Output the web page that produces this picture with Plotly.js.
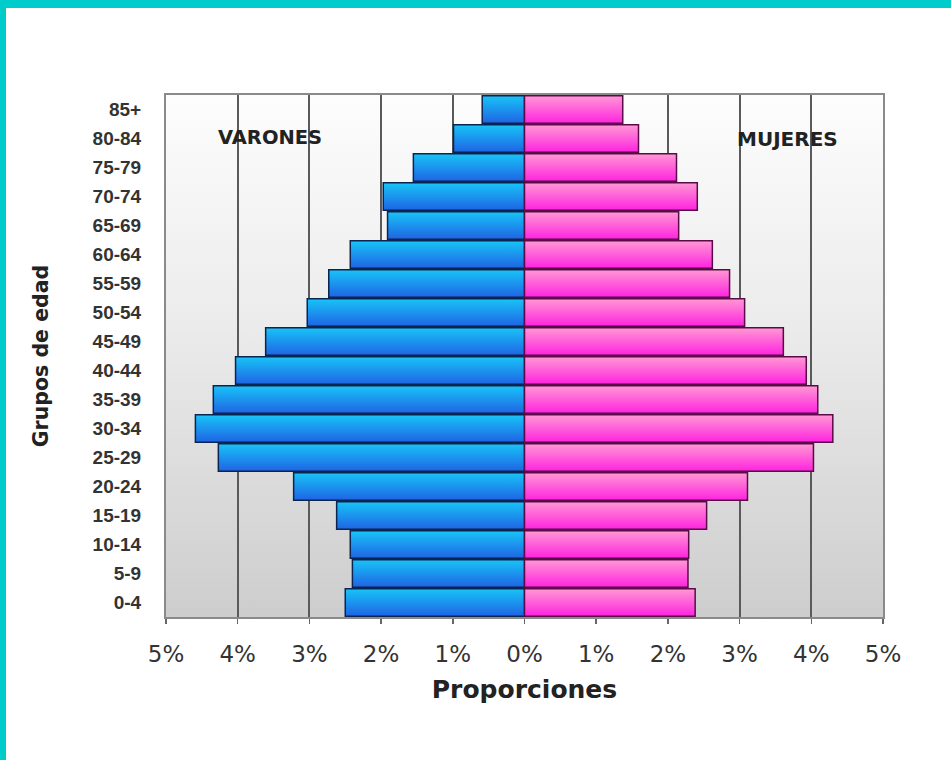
<!DOCTYPE html>
<html>
<head>
<meta charset="utf-8">
<script src="https://cdn.plot.ly/plotly-3.0.1.min.js"></script>
<style>
  html, body { margin: 0; padding: 0; background: #ffffff; }
  #wrap { position: relative; width: 951px; height: 760px; overflow: hidden; }
  #chart { position: absolute; left: 0; top: 0; width: 951px; height: 760px; }
  .band-top { position: absolute; left: 0; top: 0; width: 951px; height: 8px; background: #00cccc; }
  .band-left { position: absolute; left: 0; top: 0; width: 6px; height: 760px; background: #00cccc; }
</style>
</head>
<body>
<div id="wrap">
  <div id="chart"></div>
  <div class="band-top"></div>
  <div class="band-left"></div>
</div>
<script>
// ---- data ----
var ageGroups = ["0-4","5-9","10-14","15-19","20-24","25-29","30-34","35-39","40-44",
                 "45-49","50-54","55-59","60-64","65-69","70-74","75-79","80-84","85+"];
var varones = [2.50, 2.40, 2.43, 2.62, 3.22, 4.27, 4.59, 4.34, 4.03,
               3.61, 3.03, 2.73, 2.43, 1.91, 1.97, 1.55, 0.99, 0.59];
var mujeres = [2.38, 2.28, 2.29, 2.54, 3.11, 4.03, 4.30, 4.09, 3.93,
               3.61, 3.07, 2.86, 2.62, 2.15, 2.41, 2.12, 1.59, 1.37];
var tickValues = [-5, -4, -3, -2, -1, 0, 1, 2, 3, 4, 5];
var tickLabels = ["5%", "4%", "3%", "2%", "1%", "0%", "1%", "2%", "3%", "4%", "5%"];

var FONT = "'Liberation Sans', Arial, Helvetica, sans-serif";
var WIDE = "'DejaVu Sans', Verdana, sans-serif";

var traces = [
  {
    type: "bar", orientation: "h", name: "VARONES",
    y: ageGroups, x: varones.map(function (v) { return -v; }),
    marker: { color: "#1a9cf0", line: { color: "#0b2550", width: 1.5 } },
    hoverinfo: "skip"
  },
  {
    type: "bar", orientation: "h", name: "MUJERES",
    y: ageGroups, x: mujeres,
    marker: { color: "#ff5ad8", line: { color: "#5a0a48", width: 1.5 } },
    hoverinfo: "skip"
  }
];

var bgSvg = "<svg xmlns='http://www.w3.org/2000/svg' width='100' height='100' preserveAspectRatio='none'>" +
  "<defs><linearGradient id='g' x1='0' y1='0' x2='0' y2='1'>" +
  "<stop offset='0' stop-color='#fdfdfd'/><stop offset='0.45' stop-color='#ebebeb'/>" +
  "<stop offset='1' stop-color='#cdcdcd'/></linearGradient></defs>" +
  "<rect width='100' height='100' fill='url(#g)'/></svg>";

var layout = {
  width: 951, height: 760,
  margin: { l: 166, r: 68, t: 95, b: 143, pad: 0 },
  paper_bgcolor: "#ffffff",
  plot_bgcolor: "rgba(0,0,0,0)",
  barmode: "overlay",
  bargap: 0.06,
  showlegend: false,
  font: { family: FONT, color: "#333333" },
  images: [{
    source: "data:image/svg+xml;charset=utf-8," + encodeURIComponent(bgSvg),
    xref: "paper", yref: "paper", x: 0, y: 1, sizex: 1, sizey: 1,
    sizing: "stretch", xanchor: "left", yanchor: "top", layer: "below"
  }],
  xaxis: {
    range: [-5, 5],
    tickmode: "array", tickvals: tickValues, ticktext: tickLabels,
    showgrid: true, gridcolor: "#5a5a5a", gridwidth: 2,
    zeroline: false,
    showline: true, linecolor: "#8a8a8a", linewidth: 2, mirror: true,
    ticks: "outside", ticklen: 5, tickwidth: 1.5, tickcolor: "#666666",
    ticklabelstandoff: 10,
    tickfont: { family: WIDE, size: 23, color: "#333333" },
    title: { text: "Proporciones", standoff: 15,
             font: { family: WIDE, size: 25, color: "#222222", weight: "bold" } },
    fixedrange: true
  },
  yaxis: {
    type: "category",
    categoryorder: "array", categoryarray: ageGroups,
    showgrid: false, zeroline: false,
    showline: true, linecolor: "#8a8a8a", linewidth: 2, mirror: true,
    ticks: "", ticklabelstandoff: 19,
    tickfont: { family: FONT, size: 19, color: "#333333", weight: "bold" },
    title: { text: "Grupos de edad", standoff: 38,
             font: { family: WIDE, size: 20.5, color: "#222222", weight: "bold" } },
    fixedrange: true
  },
  annotations: [
    { text: "VARONES", xref: "x", yref: "y", x: -3.55, y: 16.05, showarrow: false,
      font: { family: WIDE, size: 19.5, color: "#222222", weight: "bold" } },
    { text: "MUJERES", xref: "x", yref: "y", x: 3.67, y: 16.0, showarrow: false,
      font: { family: WIDE, size: 20, color: "#222222", weight: "bold" } }
  ]
};

Plotly.newPlot("chart", traces, layout, { staticPlot: true, displayModeBar: false }).then(function (gd) {
  var svg = gd.querySelector("svg.main-svg");
  var ns = "http://www.w3.org/2000/svg";
  var defs = document.createElementNS(ns, "defs");
  function grad(id, top, bottom) {
    var lg = document.createElementNS(ns, "linearGradient");
    lg.setAttribute("id", id);
    lg.setAttribute("x1", "0"); lg.setAttribute("y1", "0");
    lg.setAttribute("x2", "0"); lg.setAttribute("y2", "1");
    [[0, top], [1, bottom]].forEach(function (s) {
      var st = document.createElementNS(ns, "stop");
      st.setAttribute("offset", s[0]);
      st.setAttribute("stop-color", s[1]);
      lg.appendChild(st);
    });
    defs.appendChild(lg);
  }
  grad("gradBlue", "#18c4f7", "#1f64e4");
  grad("gradPink", "#ff98d4", "#ff24e0");
  svg.insertBefore(defs, svg.firstChild);
  var barTraces = gd.querySelectorAll(".barlayer .trace");
  barTraces.forEach(function (t, i) {
    t.querySelectorAll("path").forEach(function (p) {
      p.style.fill = i === 0 ? "url(#gradBlue)" : "url(#gradPink)";
    });
  });
});
</script>
</body>
</html>
